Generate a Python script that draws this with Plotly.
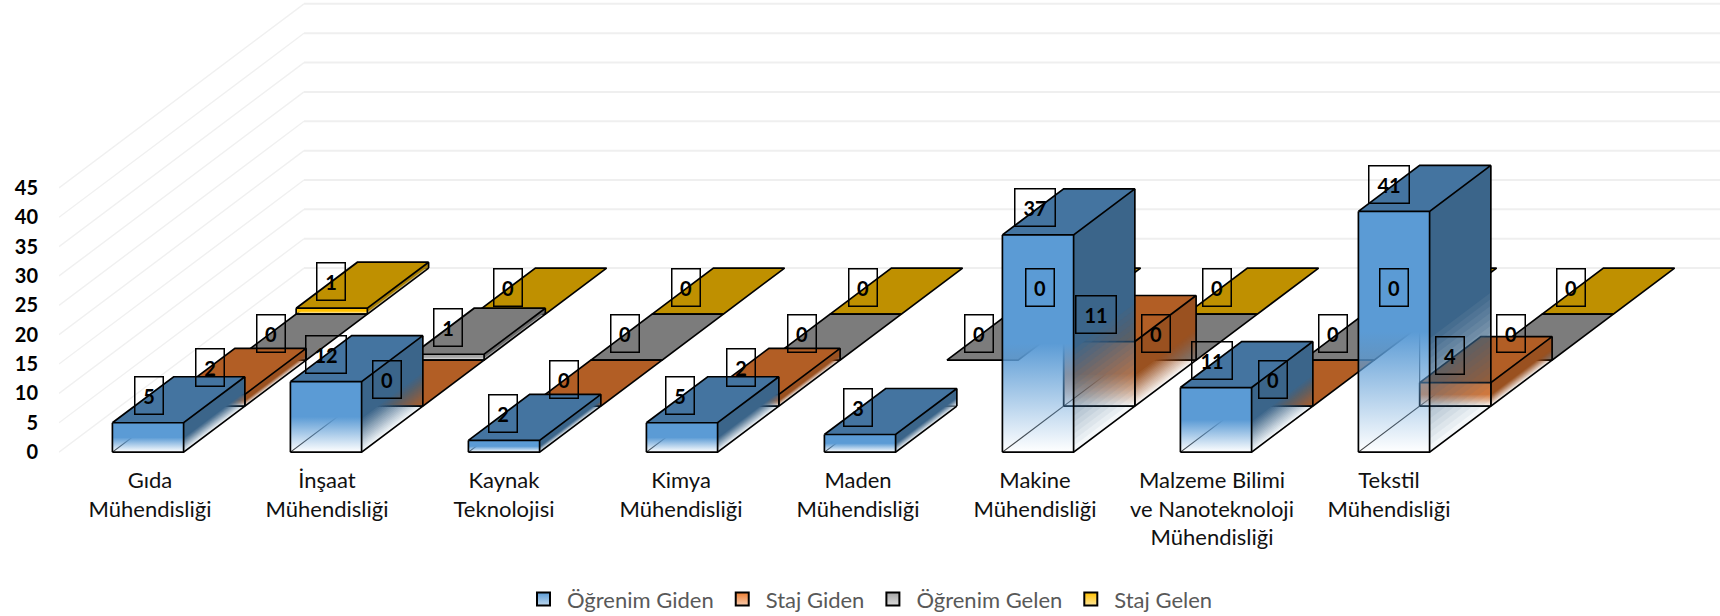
import plotly.graph_objects as go

categories = ["Gıda<br>Mühendisliği", "İnşaat<br>Mühendisliği", "Kaynak<br>Teknolojisi",
              "Kimya<br>Mühendisliği", "Maden<br>Mühendisliği", "Makine<br>Mühendisliği",
              "Malzeme Bilimi<br>ve Nanoteknoloji<br>Mühendisliği", "Tekstil<br>Mühendisliği"]
series_names = ["Öğrenim Giden", "Staj Giden", "Öğrenim Gelen", "Staj Gelen"]
ogrenim_giden = [5, 12, 2, 5, 3, 37, 11, 41]
staj_giden = [2, 0, 0, 2, None, 11, 0, 4]
ogrenim_gelen = [0, 1, 0, 0, 0, 0, 0, 0]
staj_gelen = [1, 0, 0, 0, 0, 0, 0, 0]
series_values = [ogrenim_giden, staj_giden, ogrenim_gelen, staj_gelen]
series_rgb = [(91, 155, 213), (237, 125, 49), (165, 165, 165), (255, 192, 0)]
value_ticks = [0, 5, 10, 15, 20, 25, 30, 35, 40, 45]

W, H = 1720, 616
LEFT, FLOOR_PX = 59.0, 452.0
PX_PER_CAT, PX_PER_VAL = 178.0, 5.87
KX = 61.25 / PX_PER_CAT      # category units per series row of depth
KY = 46.0 / PX_PER_VAL       # value units per series row of depth
BAR_W = 0.4
PAD_VAL = 1.0
N_LAYERS = 18
EDGE = dict(color="#000000", width=1.7)


def proj(x, depth, z):
    return x + depth * KX, z + depth * KY


def rgb(c, k=1.0, a=1.0):
    return f"rgba({round(c[0]*k)},{round(c[1]*k)},{round(c[2]*k)},{a:.4f})"


def tint(c, t):
    return f"rgb({round(c[0]+(255-c[0])*t)},{round(c[1]+(255-c[1])*t)},{round(c[2]+(255-c[2])*t)})"


def poly(points):
    pts = list(points) + [points[0]]
    return [p[0] for p in pts], [p[1] for p in pts]


fig = go.Figure()


def add_fill(points, color):
    xs, ys = poly(points)
    fig.add_trace(go.Scatter(x=xs, y=ys, mode="none", fill="toself", fillcolor=color,
                             hoverinfo="skip", showlegend=False))


def add_lines(segments, line=EDGE):
    xs, ys = [], []
    for seg in segments:
        xs += [p[0] for p in seg] + [None]
        ys += [p[1] for p in seg] + [None]
    fig.add_trace(go.Scatter(x=xs, y=ys, mode="lines", line=line, hoverinfo="skip", showlegend=False))


# walls: gridlines run along the left wall, then along the back wall
BACK = len(series_values)
n_cat = len(categories)
add_lines([[proj(0, 0, v), proj(0, BACK, v)] for v in value_ticks], dict(color="#F0F0F0", width=1.4))
add_lines([[proj(0, BACK, v), proj(n_cat, BACK, v)] for v in value_ticks], dict(color="#EFEFEF", width=2))


def bar(c, s, v, col):
    x0, x1 = c + (1 - BAR_W) / 2, c + (1 + BAR_W) / 2
    d0, d1 = s, s + 1
    A = lambda x, d, z: proj(x, d, z)
    # hidden edges, seen through the transparent foot of the bar
    if v > 0:
        add_lines([[A(x0, d0, 0), A(x0, d1, 0), A(x1, d1, 0)], [A(x0, d1, 0), A(x0, d1, v)]],
                  dict(color="rgba(0,0,0,0.75)", width=1.2))
    # side face: nested translucent layers give a gradient along the real height
    if v > 0:
        g = 0.5 * v
        for k in range(1, N_LAYERS + 1):
            z = g * (k - 1) / N_LAYERS
            a = 1.0 / (N_LAYERS - k + 1)
            add_fill([A(x1, d0, z), A(x1, d1, z), A(x1, d1, v), A(x1, d0, v)], rgb(col, 0.65, a))
        # front face
        bx, by = poly([A(x0, d0, 0), A(x1, d0, 0), A(x1, d0, v), A(x0, d0, v)])
        base = d0 * KY
        fig.add_trace(go.Scatter(
            x=bx, y=by, mode="none", fill="toself", hoverinfo="skip", showlegend=False,
            fillgradient=dict(type="vertical", start=base, stop=base + g,
                              colorscale=[[0, rgb(col, 1, 0)], [1, rgb(col, 1, 1)]])))
    # top face
    add_fill([A(x0, d0, v), A(x1, d0, v), A(x1, d1, v), A(x0, d1, v)], rgb(col, 0.75))
    # visible edges
    segs = [[A(x0, d0, v), A(x1, d0, v), A(x1, d1, v), A(x0, d1, v), A(x0, d0, v)]]
    if v > 0:
        segs += [[A(x0, d0, 0), A(x1, d0, 0), A(x1, d1, 0)],
                 [A(x0, d0, 0), A(x0, d0, v)], [A(x1, d0, 0), A(x1, d0, v)], [A(x1, d1, 0), A(x1, d1, v)]]
    add_lines(segs)


for s in range(len(series_values) - 1, -1, -1):
    for c in range(n_cat):
        v = series_values[s][c]
        if v is not None:
            bar(c, s, v, series_rgb[s])

# data labels
for s, vals in enumerate(series_values):
    for c, v in enumerate(vals):
        if v is None:
            continue
        lx, ly = proj(c + 0.5, s, v)
        fig.add_annotation(x=lx, y=ly, xshift=1 - 0.85 * c - 0.5 * s, yshift=27, text=str(v), showarrow=False,
                           font=dict(family="Lato", size=20, color="#000000", weight="bold"),
                           width=27 if v < 10 else 39, height=36, borderpad=0, borderwidth=1.5,
                           bordercolor="#000000", bgcolor="rgba(0,0,0,0)", align="center", valign="middle")

# legend entries
for name, col in zip(series_names, series_rgb):
    fig.add_trace(go.Scatter(
        x=[None], y=[None], mode="markers", name=name, hoverinfo="skip",
        marker=dict(symbol="square", size=13, color=rgb(col),
                    gradient=dict(type="vertical", color=tint(col, 0.6)),
                    line=dict(color="#000000", width=2))))

plot_h = FLOOR_PX + PAD_VAL * PX_PER_VAL
fig.update_layout(
    width=W, height=H, autosize=False,
    margin=dict(l=LEFT, r=0, t=0, b=H - plot_h, pad=0, autoexpand=False),
    paper_bgcolor="#FFFFFF", plot_bgcolor="rgba(0,0,0,0)",
    font=dict(family="Lato", color="#000000"),
    xaxis=dict(range=[0, (W - LEFT) / PX_PER_CAT], tickmode="array",
               tickvals=[c + 0.5 + (2 - c) / PX_PER_CAT for c in range(n_cat)], ticktext=categories,
               showgrid=False, zeroline=False, showline=False, ticks="", ticklabelstandoff=7,
               tickfont=dict(family="Lato", size=22, color="#111111"), fixedrange=True),
    yaxis=dict(range=[-PAD_VAL, FLOOR_PX / PX_PER_VAL], tickmode="array", tickvals=value_ticks,
               showgrid=False, zeroline=False, showline=False, ticks="", ticklabelstandoff=20,
               tickfont=dict(family="Lato", size=20, color="#000000", weight="bold"), fixedrange=True),
    showlegend=True,
    legend=dict(orientation="h", x=(520 - LEFT) / (W - LEFT), xanchor="left", itemwidth=37,
                y=(plot_h - 599) / plot_h, yanchor="middle",
                font=dict(family="Lato", size=22, color="#595959"), bgcolor="rgba(0,0,0,0)"),
)

# the browser's default page margin would push the figure off its 1720x616 frame
fig.write_html("out.html", post_script="document.body.style.margin='0';",
               config={"displayModeBar": False})
